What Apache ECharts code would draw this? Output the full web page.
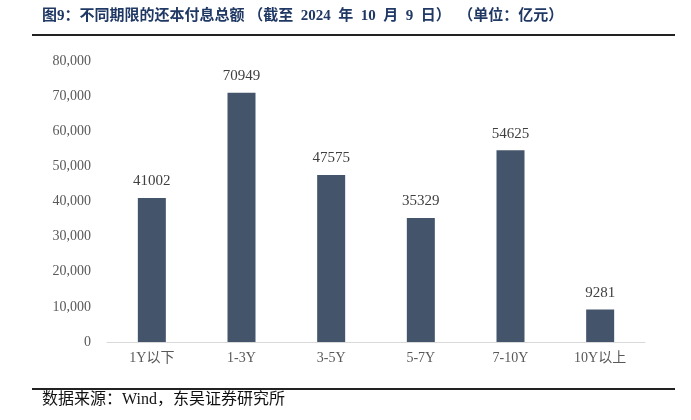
<!DOCTYPE html>
<html><head><meta charset="utf-8">
<script src="https://cdn.jsdelivr.net/npm/echarts@6/dist/echarts.min.js"></script>
<style>html,body{margin:0;padding:0;background:#fff}#c{width:691px;height:420px}</style>
</head><body><div id="c"></div>
<script>
const categories = ['1Y以下','1-3Y','3-5Y','5-7Y','7-10Y','10Y以上'];
const values = [41002, 70949, 47575, 35329, 54625, 9281];
const titleText = '图9：不同期限的还本付息总额 （截至  2024  年  10  月  9  日）  （单位：亿元）';
const sourceText = '数据来源：Wind，东吴证券研究所';
const serif = '"Liberation Serif","Times New Roman","Noto Sans CJK SC",serif';
const chart = echarts.init(document.getElementById('c'), null, {renderer:'canvas'});
chart.setOption({
  animation:false,
  backgroundColor:'#fff',
  grid:{left:107,right:46,top:61,bottom:78},
  xAxis:{type:'category',data:categories,
    axisLine:{lineStyle:{color:'#d9d9d9',width:1}},axisTick:{show:false},
    axisLabel:{color:'#595959',fontFamily:serif,fontSize:14,margin:9}},
  yAxis:{type:'value',min:0,max:80000,interval:10000,
    axisLine:{show:false},axisTick:{show:false},splitLine:{show:false},
    axisLabel:{color:'#595959',fontFamily:serif,fontSize:14,margin:16,
      formatter:v=>v.toLocaleString('en-US')}},
  series:[{type:'bar',data:values,barWidth:28,
    itemStyle:{color:'#44546a'},
    label:{show:true,position:'top',distance:9,color:'#404040',fontFamily:serif,fontSize:15}}],
  graphic:[
    {type:'text',left:42,top:9,style:{text:titleText,fill:'#1f3864',font:'bold 15px "Liberation Serif","Noto Sans CJK SC",serif'}},
    {type:'rect',shape:{x:32,y:34,width:643,height:2},style:{fill:'#222'}},
    {type:'rect',shape:{x:32,y:388,width:643,height:2},style:{fill:'#222'}},
    {type:'text',left:42,top:392,style:{text:sourceText,fill:'#111',font:'16px "Liberation Serif","Noto Sans CJK SC",serif'}}
  ]
});
</script></body></html>
